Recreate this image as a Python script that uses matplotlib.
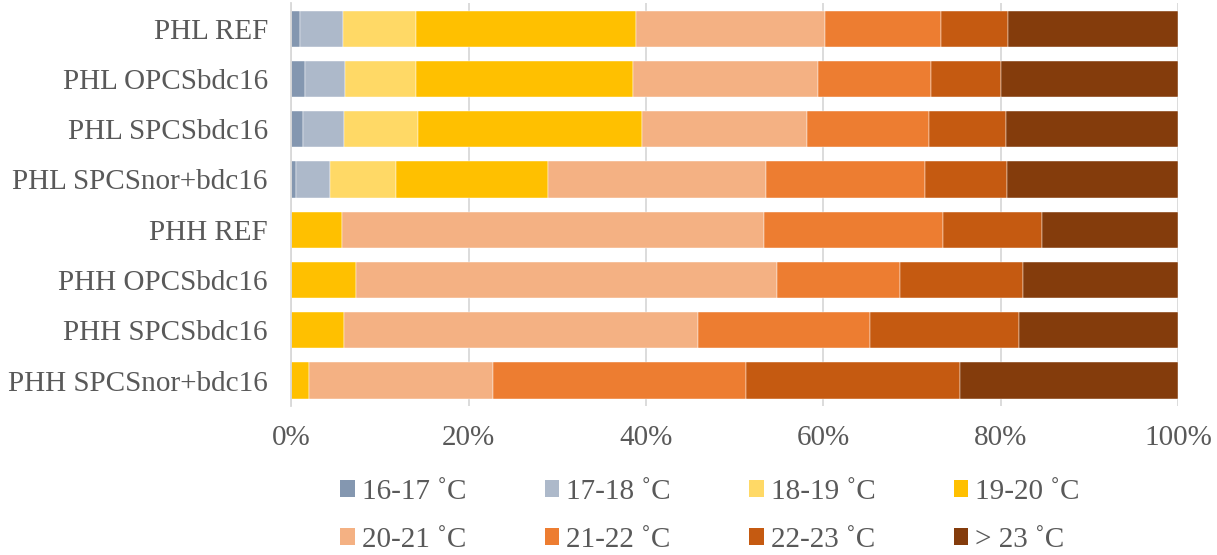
import numpy as np
import matplotlib
matplotlib.use('Agg')
import matplotlib.pyplot as plt
from matplotlib.patches import Patch
from matplotlib.ticker import FuncFormatter, MultipleLocator

plt.rcParams['font.family'] = ['Liberation Serif', 'DejaVu Serif']

# cases, top to bottom
cases = ['PHL REF', 'PHL OPCSbdc16', 'PHL SPCSbdc16', 'PHL SPCSnor+bdc16',
         'PHH REF', 'PHH OPCSbdc16', 'PHH SPCSbdc16', 'PHH SPCSnor+bdc16']

bands = ['16-17 ˚C', '17-18 ˚C', '18-19 ˚C', '19-20 ˚C',
         '20-21 ˚C', '21-22 ˚C', '22-23 ˚C', '> 23 ˚C']

# share of hours (%) in each temperature band, one list per band
t16_17 = [1.0, 1.5, 1.3, 0.5, 0.0, 0.0, 0.0, 0.0]
t17_18 = [4.8, 4.5, 4.6, 3.8, 0.0, 0.0, 0.0, 0.0]
t18_19 = [8.3, 8.1, 8.4, 7.5, 0.0, 0.0, 0.0, 0.0]
t19_20 = [24.8, 24.4, 25.2, 17.1, 5.7, 7.3, 5.9, 2.0]
t20_21 = [21.3, 20.9, 18.6, 24.6, 47.6, 47.5, 40.0, 20.7]
t21_22 = [13.1, 12.7, 13.8, 18.0, 20.2, 13.8, 19.4, 28.6]
t22_23 = [7.5, 7.9, 8.7, 9.2, 11.1, 13.9, 16.8, 24.1]
t23_up = [19.2, 20.0, 19.4, 19.3, 15.4, 17.5, 17.9, 24.6]

colors = ['#8497B0', '#ADB9CA', '#FFD966', '#FFC000',
          '#F4B183', '#ED7D31', '#C55A11', '#843C0C']

series = [t16_17, t17_18, t18_19, t19_20, t20_21, t21_22, t22_23, t23_up]
txt = '#595959'
fs = 21

fig = plt.figure(figsize=(12.17, 5.55), dpi=100)
ax = fig.add_axes([0.2395, 0.269, 0.7285, 0.7247])

y = np.arange(len(cases))
left = np.zeros(len(cases))
for vals, c in zip(series, colors):
    vals = np.array(vals)
    ax.barh(y, vals, left=left, height=0.72, color=c, edgecolor='white',
            linewidth=0.3, zorder=3)
    left += vals

ax.set_xlim(0, 100)
ax.set_ylim(len(cases) - 0.5, -0.5)
ax.set_yticks(y)
ax.set_yticklabels(cases)
ax.xaxis.set_major_locator(MultipleLocator(20))
ax.xaxis.set_major_formatter(FuncFormatter(lambda v, p: '%d%%' % v))

ax.grid(axis='x', color='#D9D9D9', linewidth=1.3, zorder=0)
for s in ['top', 'right', 'bottom']:
    ax.spines[s].set_visible(False)
ax.spines['left'].set_color('#D9D9D9')
ax.spines['left'].set_linewidth(1.3)
ax.spines['left'].set_zorder(4)

ax.tick_params(axis='both', length=0, labelsize=fs, colors=txt)
ax.tick_params(axis='y', pad=17)
ax.tick_params(axis='x', pad=14)

# legend fills row by row: matplotlib fills by column, so reorder
order = [0, 4, 1, 5, 2, 6, 3, 7]
handles = [Patch(facecolor=colors[i], edgecolor='none') for i in order]
labels = [bands[i] for i in order]
leg = fig.legend(handles, labels, ncol=4, loc='center',
                 bbox_to_anchor=(0.5834, 0.0707), frameon=False,
                 fontsize=fs, handlelength=0.5, handleheight=0.5,
                 handletextpad=0.24, columnspacing=2.68, labelspacing=0.74)
for t in leg.get_texts():
    t.set_color(txt)

fig.savefig('out.png', dpi=100)
